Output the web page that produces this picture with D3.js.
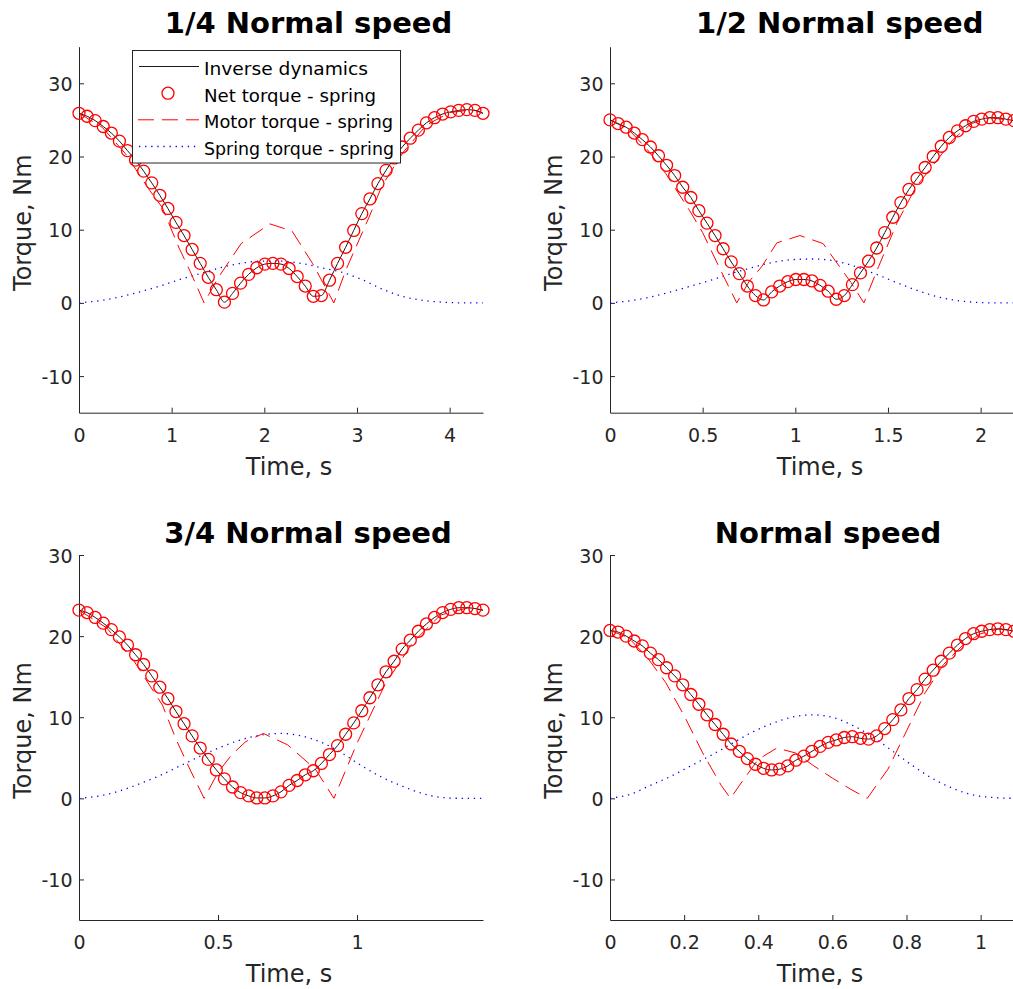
<!DOCTYPE html>
<html>
<head>
<meta charset="utf-8">
<script src="https://cdn.jsdelivr.net/npm/d3@7"></script>
<style>
  body { margin: 0; background: #fff; }
  svg { display: block; font-family: "DejaVu Sans", Verdana, sans-serif; }
</style>
</head>
<body>
<svg id="torques" width="1013" height="989"></svg>
<script>
// panel titles and run durations (s)
const titles = ["1/4 Normal speed", "1/2 Normal speed", "3/4 Normal speed", "Normal speed"];
const durations = [4.36, 2.18, 1.453, 1.09];

const xTicksQuarter = [0, 1, 2, 3, 4];
const xTicksHalf = [0, 0.5, 1, 1.5, 2];
const xTicksThreeQ = [0, 0.5, 1];
const xTicksNormal = [0, 0.2, 0.4, 0.6, 0.8, 1];
const yTicks = [-10, 0, 10, 20, 30];
const yDomainTop = [-15, 35];
const yDomainBottom = [-15, 30];

// net torque (= inverse dynamics), 51 evenly spaced samples over each run
const netQuarter = [25.9,25.5,24.9,24.1,23.2,22.1,20.8,19.5,18.0,16.4,14.7,12.9,11.0,9.2,7.3,5.4,3.5,1.8,0.1,1.3,
  2.7,3.9,4.8,5.3,5.4,5.3,4.7,3.6,2.3,0.9,1.0,3.1,5.4,7.6,9.9,12.2,14.2,16.3,18.1,19.8,
  21.3,22.5,23.6,24.6,25.3,25.8,26.1,26.3,26.4,26.3,25.9];
const netHalf = [25.0,24.5,24.0,23.2,22.3,21.3,20.1,18.8,17.4,15.8,14.4,12.6,10.9,9.2,7.4,5.6,4.0,2.3,1.0,0.4,
  1.5,2.3,2.9,3.2,3.2,3.0,2.4,1.6,0.5,1.0,2.5,4.1,5.7,7.5,9.6,11.7,13.7,15.5,17.0,18.5,
  20.0,21.4,22.6,23.5,24.2,24.8,25.1,25.3,25.3,25.1,24.9];
const netThreeQ = [23.2,22.9,22.3,21.6,20.8,19.9,18.9,17.7,16.5,15.1,13.7,12.3,10.7,9.2,7.7,6.2,4.8,3.5,2.4,1.4,
  0.7,0.3,0.05,0.05,0.3,0.8,1.6,2.2,2.9,3.4,4.3,5.4,6.5,7.9,9.3,10.8,12.4,14.0,15.6,16.9,
  18.4,19.5,20.6,21.5,22.3,22.9,23.3,23.5,23.5,23.4,23.2];
const netNormal = [20.7,20.5,20.0,19.4,18.8,17.9,17.1,16.1,15.1,14.0,12.8,11.6,10.3,9.1,7.9,6.7,5.8,4.9,4.2,3.7,
  3.5,3.6,4.0,4.7,5.2,5.8,6.4,6.9,7.2,7.5,7.6,7.4,7.3,7.7,8.6,9.7,10.9,12.3,13.4,14.7,
  15.8,16.9,17.9,18.9,19.7,20.3,20.6,20.8,20.9,20.8,20.6];

// spring torque, 21 evenly spaced samples over each run
const springQuarter = [0,0.3,0.8,1.5,2.3,3.2,4.0,4.8,5.4,5.7,5.7,5.4,4.8,4.2,3.2,1.9,0.9,0.35,0.1,0,0];
const springHalf = [0,0.3,0.8,1.5,2.3,3.1,4.0,4.8,5.5,5.9,6.0,5.8,5.1,4.1,3.0,1.9,1.0,0.4,0.1,0,0];
const springThreeQ = [0,0.3,0.9,1.8,2.8,4.0,5.2,6.3,7.2,7.8,8.0,7.7,6.9,5.6,4.0,2.6,1.5,0.6,0.1,0,0];
const springNormal = [0,0.5,1.6,2.7,4.0,5.3,6.7,8.1,9.2,10.0,10.3,10.0,9.0,7.6,5.8,4.0,2.4,1.2,0.4,0.1,0];

// motor torque (time s, value Nm)
const motorTimeQuarter = [0,0.25,0.5,0.75,0.9,1.08,1.2,1.35,1.5,1.75,2.06,2.3,2.52,2.75,2.88,3.13,3.27,3.5,3.75,4.0,4.25,4.36];
const motorQuarter = [25.9,24.0,20.4,15.6,13.0,7.5,4.3,0,3.4,8.1,10.8,9.8,5.4,0,4.5,11.7,16.0,20.6,24.3,26.0,26.4,25.9];
const motorTimeHalf = [0,0.1,0.2,0.3,0.43,0.5,0.6,0.684,0.75,0.82,0.9,1.025,1.15,1.24,1.3,1.37,1.45,1.55,1.65,1.75,1.85,1.95,2.05,2.18];
const motorHalf = [25.0,23.7,21.0,17.7,12.6,9.6,4.3,0,2.9,5.0,8.2,9.2,8.1,4.9,2.8,0,5.0,11.0,15.8,19.0,22.3,24.5,25.3,24.9];
const motorTimeThreeQ = [0,0.1,0.2,0.3,0.35,0.4,0.45,0.5,0.55,0.6,0.663,0.75,0.85,0.917,1.0,1.1,1.2,1.3,1.4,1.453];
const motorThreeQ = [23.2,21.0,16.8,11.5,7.2,3.5,0,3.2,5.4,7.0,8.0,6.6,3.6,0,6.8,14.0,19.2,22.6,23.5,23.2];
const motorTimeNormal = [0,0.05,0.1,0.15,0.2,0.25,0.3,0.325,0.36,0.4,0.45,0.5,0.55,0.6,0.65,0.694,0.75,0.8,0.85,0.9,0.95,1.0,1.05,1.09];
const motorNormal = [20.7,19.8,17.4,14.3,10.2,5.6,1.6,0,2.3,4.8,6.2,5.6,4.0,2.5,1.1,0,3.6,8.3,13.0,16.5,18.8,20.3,20.9,20.6];

const legendLabels = ["Inverse dynamics", "Net torque - spring", "Motor torque - spring", "Spring torque - spring"];
const legendTextWidths = [164, 172, 189, 190];

const axisColor = "#262626";
const red = "#ff0000";
const blue = "#0000ff";

const panels = [
  {net: netQuarter, spring: springQuarter, mt: motorTimeQuarter, motor: motorQuarter, xTicks: xTicksQuarter,
   yDomain: yDomainTop, x0: 79, y0: 46.7, h: 366, titleX: 308.5, titleY: 33.3},
  {net: netHalf, spring: springHalf, mt: motorTimeHalf, motor: motorHalf, xTicks: xTicksHalf,
   yDomain: yDomainTop, x0: 610, y0: 46.7, h: 366, titleX: 839.8, titleY: 33.3},
  {net: netThreeQ, spring: springThreeQ, mt: motorTimeThreeQ, motor: motorThreeQ, xTicks: xTicksThreeQ,
   yDomain: yDomainBottom, x0: 79, y0: 555, h: 365, titleX: 308, titleY: 543.3},
  {net: netNormal, spring: springNormal, mt: motorTimeNormal, motor: motorNormal, xTicks: xTicksNormal,
   yDomain: yDomainBottom, x0: 610, y0: 555, h: 365, titleX: 828, titleY: 543.3}
];
const plotWidth = 404;

let svg = d3.select("svg#torques");

panels.forEach((p, n) => {
  let T = durations[n];
  let x = d3.scaleLinear().domain([0, T]).range([0, plotWidth]);
  let y = d3.scaleLinear().domain(p.yDomain).range([p.h, 0]);

  let g = svg.append("g").attr("transform", `translate(${p.x0},${p.y0})`);

  // axes, ticks pointing inward, plain hyphen for negatives
  let bottomAxis = d3.axisBottom(x).tickValues(p.xTicks).tickSizeInner(-5).tickSizeOuter(0)
                     .tickFormat(d => String(d));
  let leftAxis = d3.axisLeft(y).tickValues(yTicks).tickSizeInner(-5).tickSizeOuter(0)
                   .tickFormat(d => String(d));

  let xa = g.append("g").attr("transform", `translate(0,${p.h})`).call(bottomAxis);
  let ya = g.append("g").call(leftAxis);
  [xa, ya].forEach(a => {
    a.attr("font-size", 19).attr("font-family", "DejaVu Sans");
    a.select(".domain").attr("stroke", axisColor).attr("stroke-width", 1);
    a.selectAll(".tick line").attr("stroke", axisColor).attr("stroke-width", 1);
    a.selectAll(".tick text").attr("fill", axisColor);
  });
  xa.selectAll(".tick text").attr("dy", null).attr("y", 29);
  ya.selectAll(".tick text").attr("dy", null).attr("x", -6.5).attr("y", 7);

  // spring torque (dotted blue)
  let springLine = d3.line()
      .x((d, i) => x(i * T / (p.spring.length - 1)))
      .y(d => y(d))
      .curve(d3.curveMonotoneX);
  g.append("path").datum(p.spring)
    .attr("d", springLine)
    .attr("fill", "none").attr("stroke", blue).attr("stroke-width", 1.3)
    .attr("stroke-dasharray", "1.3,4.8");

  // motor torque (dashed red)
  let motorLine = d3.line()
      .x((d, i) => x(p.mt[i]))
      .y(d => y(d));
  g.append("path").datum(p.motor)
    .attr("d", motorLine)
    .attr("fill", "none").attr("stroke", red).attr("stroke-width", 1)
    .attr("stroke-dasharray", "16,8");

  // inverse dynamics (black line)
  let netLine = d3.line()
      .x((d, i) => x(i * T / (p.net.length - 1)))
      .y(d => y(d))
      .curve(d3.curveMonotoneX);
  g.append("path").datum(p.net)
    .attr("d", netLine)
    .attr("fill", "none").attr("stroke", "#1a1a1a").attr("stroke-width", 1);

  // net torque markers
  g.selectAll("circle.net")
    .data(p.net)
    .join("circle")
    .attr("class", "net")
    .attr("cx", (d, i) => x(i * T / (p.net.length - 1)))
    .attr("cy", d => y(d))
    .attr("r", 6)
    .attr("fill", "none")
    .attr("stroke", red)
    .attr("stroke-width", 1.3);

  // labels
  svg.append("text")
    .attr("x", p.titleX).attr("y", p.titleY)
    .attr("text-anchor", "middle")
    .attr("font-size", 29).attr("font-weight", "bold").attr("fill", "#000")
    .text(titles[n]);

  svg.append("text")
    .attr("x", p.x0 + 210).attr("y", p.y0 + p.h + 62)
    .attr("text-anchor", "middle")
    .attr("font-size", 24).attr("fill", axisColor)
    .text("Time, s");

  svg.append("text")
    .attr("transform", `translate(${p.x0 - 48},${p.y0 + p.h / 2 - 7}) rotate(-90)`)
    .attr("text-anchor", "middle")
    .attr("font-size", 24).attr("fill", axisColor)
    .text("Torque, Nm");
});

// legend (top-left panel)
let legend = svg.append("g").attr("id", "legend");
legend.append("rect")
  .attr("x", 132.5).attr("y", 50.5).attr("width", 268).attr("height", 112.5)
  .attr("fill", "#fff").attr("stroke", axisColor).attr("stroke-width", 1);

const rowY = [66.5, 93.2, 119.8, 146.5];
legendLabels.forEach((label, i) => {
  let cy = rowY[i];
  if (i === 0) {
    legend.append("line").attr("x1", 139).attr("x2", 199).attr("y1", cy).attr("y2", cy)
      .attr("stroke", "#1a1a1a").attr("stroke-width", 1);
  } else if (i === 1) {
    legend.append("circle").attr("cx", 168).attr("cy", cy).attr("r", 6)
      .attr("fill", "none").attr("stroke", red).attr("stroke-width", 1.3);
  } else if (i === 2) {
    legend.append("line").attr("x1", 138).attr("x2", 199).attr("y1", cy).attr("y2", cy)
      .attr("stroke", red).attr("stroke-width", 1).attr("stroke-dasharray", "16,8");
  } else {
    legend.append("line").attr("x1", 139).attr("x2", 199).attr("y1", cy).attr("y2", cy)
      .attr("stroke", blue).attr("stroke-width", 1.3).attr("stroke-dasharray", "1.3,4.8");
  }
  legend.append("text")
    .attr("x", 204).attr("y", cy + 8.5)
    .attr("font-size", 18.5).attr("fill", "#000")
    .attr("textLength", legendTextWidths[i]).attr("lengthAdjust", "spacingAndGlyphs")
    .text(label);
});
</script>
</body>
</html>
